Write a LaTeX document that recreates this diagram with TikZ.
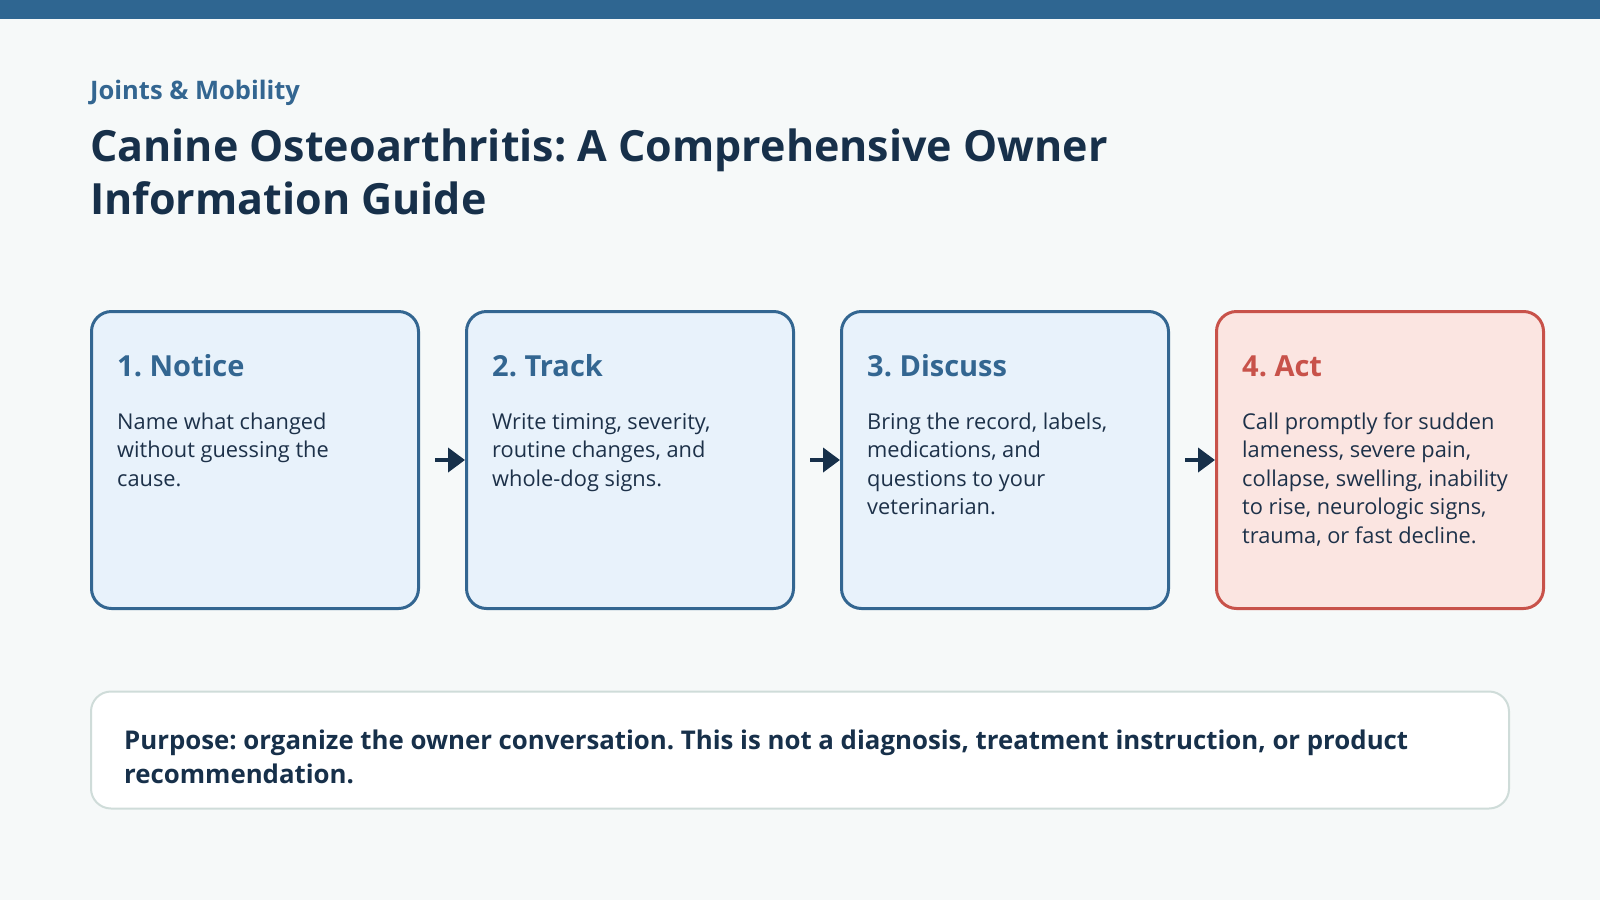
\documentclass[tikz,border=0pt]{standalone}
\usepackage{fontspec}
\setmainfont{Open Sans}
\usetikzlibrary{arrows.meta,calc}
\frenchspacing
\definecolor{bgc}{HTML}{F6F9F9}
\definecolor{barc}{HTML}{2F6691}
\definecolor{navy}{HTML}{17304A}
\definecolor{bodyc}{HTML}{1D3149}
\definecolor{bluec}{HTML}{336691}
\definecolor{cardfill}{HTML}{E8F2FB}
\definecolor{redc}{HTML}{C8524A}
\definecolor{redfill}{HTML}{FBE5E1}
\definecolor{notec}{HTML}{CFDCD9}
\tikzset{
  card/.style={draw=bluec, fill=cardfill, line width=3pt, rounded corners=20pt,
    minimum width=327pt, minimum height=297pt, inner sep=0pt},
  redcard/.style={card, draw=redc, fill=redfill},
  cardtitle/.style={anchor=base west, inner sep=0pt, text=bluec,
    font=\fontsize{29}{34}\selectfont\bfseries},
  cardbody/.style={anchor=base west, inner sep=0pt, text=bodyc, align=left,
    font=\fontsize{21.8}{28.6}\selectfont},
  arr/.style={draw=navy, line width=4pt, -{Triangle[length=17pt,width=24pt]}, shorten <=15pt},
}
\begin{document}
\begin{tikzpicture}[x=1pt,y=-1pt]
\useasboundingbox (0,0) rectangle (1600,900);
\fill[bgc] (0,0) rectangle (1600,900);
\fill[barc] (0,0) rectangle (1600,18.5);
\node[anchor=base west, inner sep=0pt, text=bluec, font=\fontsize{25.5}{30}\selectfont\bfseries] (kicker) at (90,99) {Joints \& Mobility};
\node[anchor=base west, inner sep=0pt, text=navy, align=left, font=\fontsize{43}{53}\selectfont\bfseries] (title) at (90,214) {Canine Osteoarthritis: A Comprehensive Owner\\Information Guide};
\node[card] (c1) at (255,460) {};
\node[card] (c2) at (630,460) {};
\node[card] (c3) at (1005,460) {};
\node[redcard] (c4) at (1380,460) {};
\foreach \i/\t in {1/{1. Notice},2/{2. Track},3/{3. Discuss}}{
  \node[cardtitle] (t\i) at ($(c\i.north west)+(27,66)$) {\t};
}
\node[cardtitle, text=redc] (t4) at ($(c4.north west)+(27,66)$) {4. Act};
% anchors are the baseline of the last line (first baseline at +119, leading 28.6)
\node[cardbody] (b1) at ($(c1.north west)+(27,176.2)$) {Name what changed\\without guessing the\\cause.};
\node[cardbody] (b2) at ($(c2.north west)+(27,176.2)$) {Write timing, severity,\\routine changes, and\\whole-dog signs.};
\node[cardbody] (b3) at ($(c3.north west)+(27,204.8)$) {Bring the record, labels,\\medications, and\\questions to your\\veterinarian.};
\node[cardbody] (b4) at ($(c4.north west)+(27,233.4)$) {Call promptly for sudden\\lameness, severe pain,\\collapse, swelling, inability\\to rise, neurologic signs,\\trauma, or fast decline.};
\draw[arr] (c1.east) -- (c2.west);
\draw[arr] (c2.east) -- (c3.west);
\draw[arr] (c3.east) -- (c4.west);
\node[draw=notec, fill=white, line width=2pt, rounded corners=20pt, minimum width=1418pt, minimum height=117pt, inner sep=0pt] (note) at (800,750) {};
\node[anchor=base west, inner sep=0pt, text=navy, align=left, font=\fontsize{25.8}{33.7}\selectfont\bfseries] (notetext) at ($(note.north west)+(34,92.7)$) {Purpose: organize the owner conversation. This is not a diagnosis, treatment instruction, or product\\recommendation.};
\end{tikzpicture}
\end{document}
